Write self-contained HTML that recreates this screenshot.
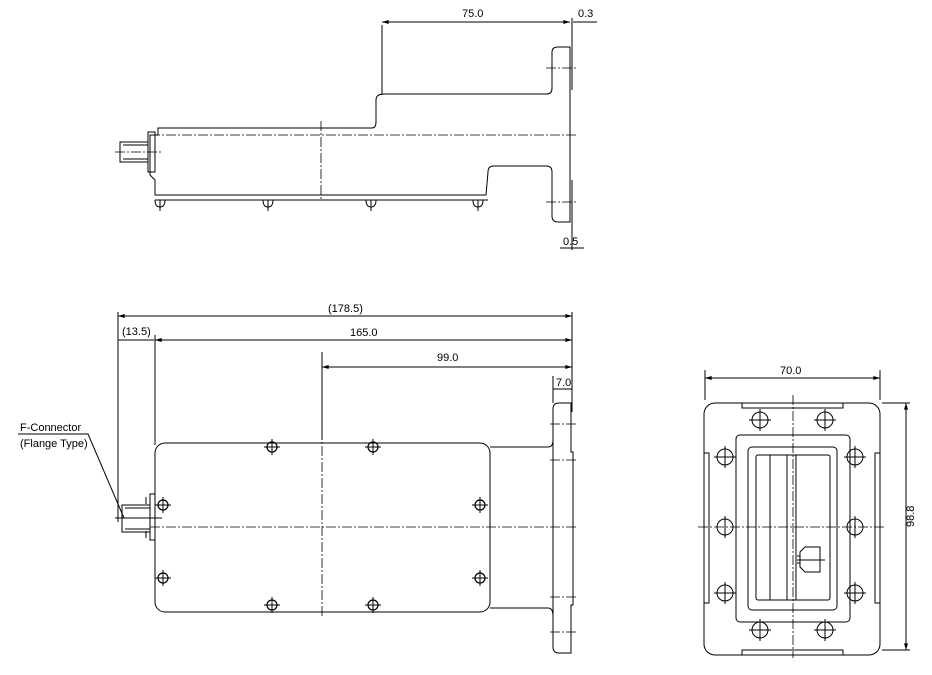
<!DOCTYPE html>
<html><head><style>
html,body{margin:0;padding:0;background:#fff}
svg{display:block}
text{font-family:"Liberation Sans",sans-serif;font-size:11px;fill:#000;stroke:none}
</style></head><body>
<svg width="932" height="675" viewBox="0 0 932 675" fill="none" stroke="#000" stroke-width="1">
<defs>
<marker id="a" viewBox="0 0 10 6" refX="10" refY="3" markerWidth="8" markerHeight="4" orient="auto-start-reverse"><path d="M0,0L10,3L0,6z" fill="#000" stroke="none"/></marker>
</defs>
<g stroke-dasharray="10,2,2,2" stroke-width="0.8">
<line x1="150" y1="135" x2="577" y2="135"/>
<line x1="321" y1="121" x2="321" y2="201"/>
<line x1="115" y1="152" x2="162" y2="152"/>
<line x1="546" y1="68" x2="577" y2="68"/>
<line x1="546" y1="202" x2="577" y2="202"/>
<line x1="150" y1="527" x2="578" y2="527"/>
<line x1="322" y1="430" x2="322" y2="618"/>
<line x1="550" y1="424" x2="577" y2="424"/><line x1="550" y1="460" x2="577" y2="460"/>
<line x1="550" y1="597" x2="577" y2="597"/><line x1="550" y1="632" x2="577" y2="632"/>
<line x1="793" y1="395" x2="793" y2="658"/>
<line x1="698" y1="527" x2="884" y2="527"/>
</g>
<!-- top view -->
<path d="M382,95 V25"/>
<line x1="382" y1="22" x2="570" y2="22" marker-start="url(#a)" marker-end="url(#a)"/>
<line x1="573" y1="22" x2="597" y2="22"/>
<path d="M158,128 H372 Q376,128 376,122 V100 Q376,94 384,94 H547 Q552,94 552,88 V52 Q552,47 558,47 H570 V222 H558 Q552,222 552,216 V172 Q552,166 546,166 H494 Q488,166 488,172 L486,195 H155 V180 L150,175 V135 H158 Z"/>
<path d="M572,18 V90 M572,180 V250"/>
<line x1="155" y1="200" x2="488" y2="200"/>
<path d="M148,132 H155 V172 H148 Z"/>
<path d="M120,142 H148 V162 H120 Z M123,145 H148 M123,159 H148"/>
<g><path d="M155,200 q0,7 5,7 q5,0 5,-7 M263,200 q0,7 5,7 q5,0 5,-7 M366,200 q0,7 5,7 q5,0 5,-7 M473,200 q0,7 5,7 q5,0 5,-7"/>
<path d="M160,200 V211 M268,200 V211 M371,200 V211 M478,200 V211"/></g>
<text x="462" y="17">75.0</text><text x="578" y="17">0.3</text>
<text x="563" y="245">0.5</text>
<line x1="560" y1="248" x2="584" y2="248"/>
<!-- bottom view -->
<path d="M118,312 V522 M155,335 V445 M572,312 V412 M322,352 V440 M553,376 V403"/>
<line x1="118" y1="316" x2="572" y2="316" marker-start="url(#a)" marker-end="url(#a)"/>
<line x1="118" y1="340" x2="154" y2="340"/>
<line x1="155" y1="340" x2="572" y2="340" marker-start="url(#a)" marker-end="url(#a)"/>
<line x1="322" y1="367" x2="572" y2="367" marker-start="url(#a)" marker-end="url(#a)"/>
<line x1="553" y1="389" x2="572" y2="389"/>
<text x="328" y="312">(178.5)</text><text x="122" y="335">(13.5)</text>
<text x="350" y="336">165.0</text><text x="437" y="361">99.0</text><text x="556" y="386">7.0</text>
<rect x="155" y="443" width="335" height="169" rx="10"/>
<path d="M490,447 H548 Q553,447 553,440 V409 Q553,403 559,403 H571 V452 H573 V605 H571 V653 H559 Q553,653 553,647 V616 Q553,608 548,608 H490"/>
<line x1="553" y1="440" x2="553" y2="616"/>
<path d="M150,494 H155 V540 H150 Z M122,505 H150 V532 H122 Z M125,508 H150 M125,529 H150 M115,518 H162 M146,497 V504 M146,531 V538"/>
<g stroke-width="1.2">
<circle cx="272" cy="447" r="5"/><circle cx="373" cy="447" r="5"/>
<circle cx="163" cy="505" r="5"/><circle cx="480" cy="505" r="5"/>
<circle cx="163" cy="578" r="5"/><circle cx="480" cy="578" r="5"/>
<circle cx="272" cy="605" r="5"/><circle cx="373" cy="605" r="5"/>
</g>
<path d="M264,447h16M272,439v16M365,447h16M373,439v16M155,505h16M163,497v16M472,505h16M480,497v16M155,578h16M163,570v16M472,578h16M480,570v16M264,605h16M272,597v16M365,605h16M373,597v16"/>
<text x="20" y="431">F-Connector</text><text x="20" y="447">(Flange Type)</text>
<path d="M18,434 H88 L124,518"/>
<!-- flange view -->
<path d="M705,370 V400 M880,370 V400 M882,403 H910 M882,650 H910"/>
<line x1="705" y1="378" x2="880" y2="378" marker-start="url(#a)" marker-end="url(#a)"/>
<line x1="906" y1="403" x2="906" y2="650" marker-start="url(#a)" marker-end="url(#a)"/>
<text x="780" y="374">70.0</text>
<text x="903" y="538" transform="rotate(-90 903 527)">98.8</text>
<rect x="704" y="403" width="176" height="252" rx="11"/>
<rect x="742" y="403" width="101" height="5"/><rect x="742" y="650" width="101" height="5"/>
<rect x="704" y="453" width="5" height="150"/><rect x="875" y="453" width="5" height="150"/>
<rect x="736" y="435" width="114" height="187" rx="4"/>
<rect x="748" y="447" width="89" height="163" rx="4"/>
<rect x="756" y="455" width="74" height="145" rx="2"/>
<path d="M770,455 V600 M787,455 V600 M796,455 V600"/>
<path d="M800,552 L805,547 H820 V572 H805 L800,567 Z M797,556 H800 V563 H797 M797,560 H825"/>
<g>
<circle cx="760" cy="420" r="8"/><circle cx="825" cy="420" r="8"/>
<circle cx="725" cy="457" r="8"/><circle cx="855" cy="457" r="8"/>
<circle cx="725" cy="527" r="8"/><circle cx="855" cy="527" r="8"/>
<circle cx="725" cy="593" r="8"/><circle cx="855" cy="593" r="8"/>
<circle cx="760" cy="630" r="8"/><circle cx="825" cy="630" r="8"/>
</g>
<path d="M749,420h22M760,409v22M814,420h22M825,409v22M714,457h22M725,446v22M844,457h22M855,446v22M725,516v22M855,516v22M714,593h22M725,582v22M844,593h22M855,582v22M749,630h22M760,619v22M814,630h22M825,619v22"/>
</svg>
</body></html>
